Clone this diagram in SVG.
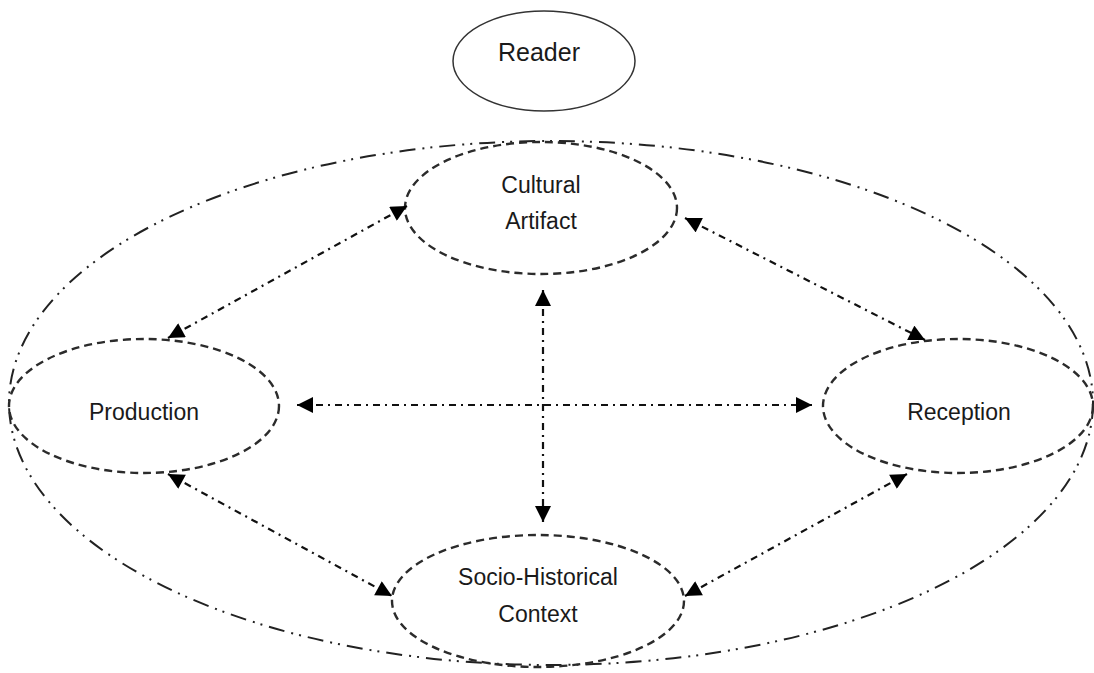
<svg xmlns="http://www.w3.org/2000/svg" width="1094" height="673" viewBox="0 0 1094 673">
<style>
.node{fill:none;stroke:#2b2b2b;stroke-width:2.4;stroke-dasharray:8 5}
.reader{fill:none;stroke:#333;stroke-width:1.5}
.outer{fill:none;stroke:#222;stroke-width:2;stroke-dasharray:16 7 2 6 2 7}
.conn{fill:none;stroke:#111;stroke-width:2.2;stroke-dasharray:7 5 2 5;marker-start:url(#ah);marker-end:url(#ah)}
text{font-family:"Liberation Sans",Arial,sans-serif;font-size:23px;fill:#1a1a1a;text-anchor:middle}
</style>
<defs>
<marker id="ah" viewBox="0 0 10 10" refX="10" refY="5" markerUnits="userSpaceOnUse" markerWidth="17" markerHeight="16" orient="auto-start-reverse">
<path d="M0,0 L10,5 L0,10 z" fill="#000"/>
</marker>
</defs>
<rect width="1094" height="673" fill="#fff"/>
<g id="reader">
<ellipse class="reader" cx="544" cy="61" rx="91" ry="50"/>
<text x="539" y="61" style="font-size:25px">Reader</text>
</g>
<g id="context-boundary">
<ellipse class="outer" cx="551" cy="403" rx="542" ry="262"/>
</g>
<g id="cultural-artifact">
<ellipse class="node" cx="541" cy="208" rx="136" ry="66"/>
<text x="541" y="193">Cultural</text>
<text x="541" y="229">Artifact</text>
</g>
<g id="production">
<ellipse class="node" cx="144" cy="406" rx="135" ry="67"/>
<text x="144" y="420">Production</text>
</g>
<g id="reception">
<ellipse class="node" cx="958" cy="406" rx="135" ry="67"/>
<text x="959" y="420">Reception</text>
</g>
<g id="socio-historical-context">
<ellipse class="node" cx="538" cy="601" rx="146" ry="66"/>
<text x="538" y="585">Socio-Historical</text>
<text x="538" y="622">Context</text>
</g>
<g id="connectors">
<line class="conn" x1="168" y1="338" x2="407" y2="206"/>
<line class="conn" x1="685" y1="218" x2="925" y2="340"/>
<line class="conn" x1="543" y1="290" x2="543" y2="522"/>
<line class="conn" x1="297" y1="405" x2="812" y2="405"/>
<line class="conn" x1="168" y1="474" x2="392" y2="596"/>
<line class="conn" x1="907" y1="474" x2="685" y2="596"/>
</g>
</svg>
